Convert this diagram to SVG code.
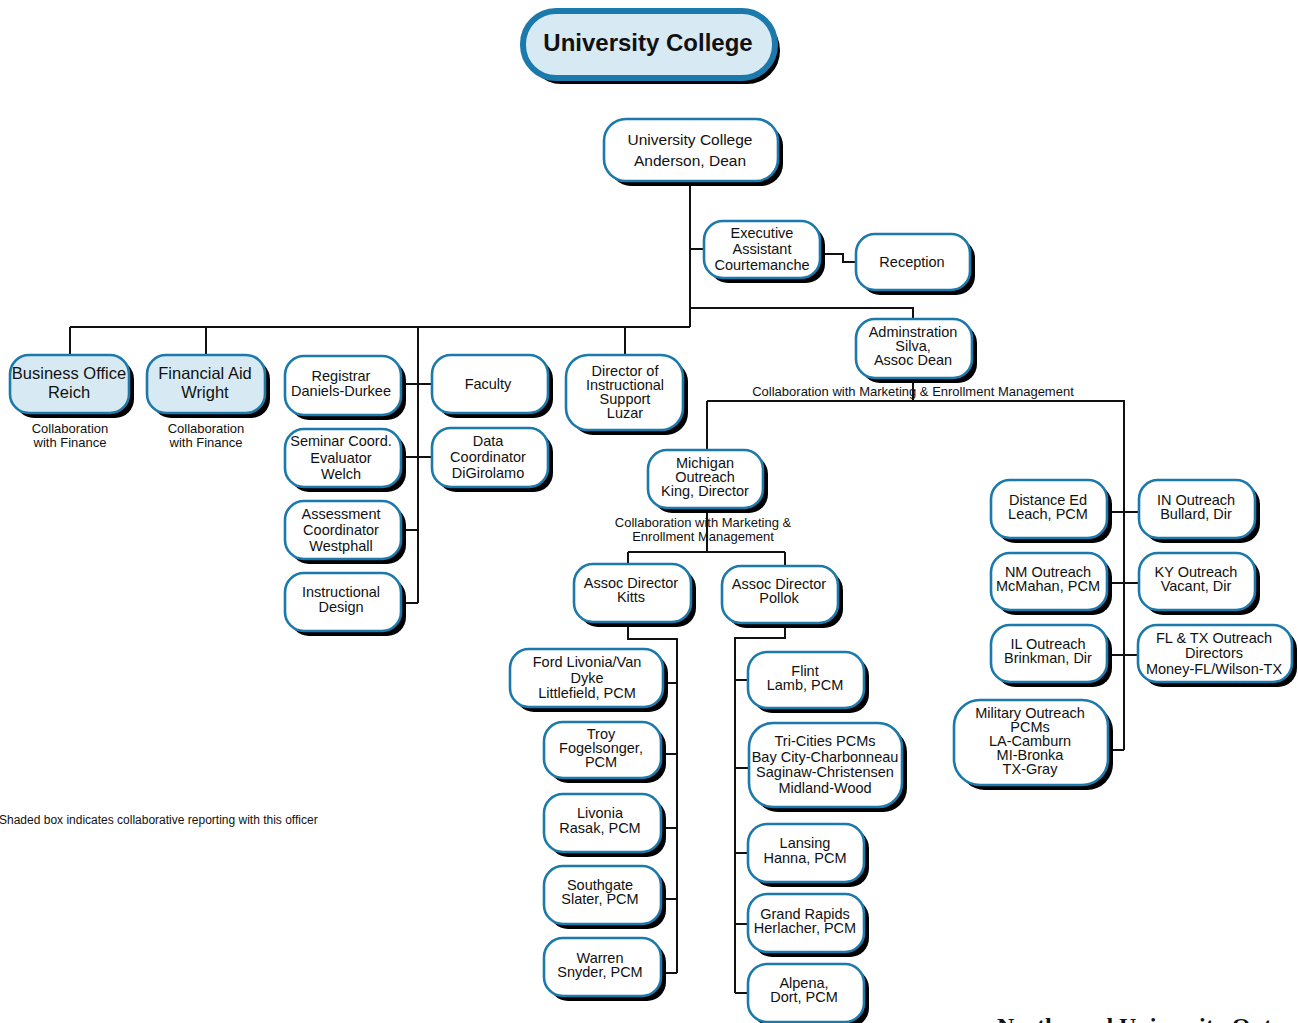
<svg xmlns="http://www.w3.org/2000/svg" width="1298" height="1023" viewBox="0 0 1298 1023">
  <style>
    .sh { fill: #000; }
    .bx { fill: #fff; stroke: #1b7aab; stroke-width: 2.6; }
    .shade { fill: #d7eaf3; }
    .lbl { font-family: "Liberation Sans", Arial, sans-serif; font-size: 14.5px; fill: #111; text-anchor: middle; }
    .big { font-size: 16.5px; }
    .dean { font-size: 15.5px; }
    .cap { font-family: "Liberation Sans", Arial, sans-serif; font-size: 13px; fill: #111; text-anchor: middle; }
    .note { font-family: "Liberation Sans", Arial, sans-serif; font-size: 12px; fill: #111; }
    .conn { fill: none; stroke: #111; stroke-width: 2; }
  </style>

  <!-- Title banner -->
  <g id="title">
    <rect x="528" y="17" width="252" height="67" rx="33" class="sh"/>
    <rect x="523" y="11" width="252" height="67" rx="33" fill="#d7eaf3" stroke="#1b7aab" stroke-width="6"/>
    <text x="648" y="51" font-family="'Liberation Sans', Arial, sans-serif" font-size="24" font-weight="bold" fill="#111" text-anchor="middle">University College</text>
  </g>

  <!-- Connectors -->
  <g id="connectors" class="conn">
    <path d="M690 184 V327 M70 327 H690 M70 327 V355 M206 327 V355 M418 327 V603 M625 327 V355"/>
    <path d="M690 249 H704"/>
    <path d="M820 254 H843 V262 H856"/>
    <path d="M690 308 H913 V319"/>
    <path d="M401 384 H432 M401 457 H432 M401 530 H418 M401 603 H418"/>
    <path d="M913 378 V401 M707 401 H1124 V750 M707 401 V450"/>
    <path d="M707 508 V552 M628 552 H785 M628 552 V564 M785 552 V566"/>
    <path d="M628 622 V639 H677 V973 M663 683 H677 M661 754 H677 M661 828 H677 M661 899 H677 M661 973 H677"/>
    <path d="M785 623 V638 H735 V993 M735 680 H748 M735 768 H749 M735 853 H748 M735 924 H748 M735 993 H748"/>
    <path d="M1107 512 H1139 M1107 583 H1139 M1107 655 H1138 M1108 750 H1124"/>
  </g>

  <g id="dean">
    <rect x="609" y="124" width="174" height="62" rx="22" class="sh"/>
    <rect x="604" y="119" width="174" height="62" rx="22" class="bx"/>
    <text class="lbl dean"><tspan x="690" y="145">University College</tspan><tspan x="690" y="166">Anderson, Dean</tspan></text>
  </g>

  <g id="exec-assistant">
    <rect x="709" y="226" width="116" height="57" rx="19" class="sh"/>
    <rect x="704" y="221" width="116" height="57" rx="19" class="bx"/>
    <text class="lbl"><tspan x="762" y="238">Executive</tspan><tspan x="762" y="254">Assistant</tspan><tspan x="762" y="270">Courtemanche</tspan></text>
  </g>

  <g id="reception">
    <rect x="861" y="239" width="114" height="56" rx="19" class="sh"/>
    <rect x="856" y="234" width="114" height="56" rx="19" class="bx"/>
    <text class="lbl" x="912" y="267">Reception</text>
  </g>

  <g id="business-office">
    <rect x="15" y="360" width="119" height="58" rx="19" class="sh"/>
    <rect x="10" y="355" width="119" height="58" rx="19" class="bx shade"/>
    <text class="lbl big"><tspan x="69" y="379">Business Office</tspan><tspan x="69" y="398">Reich</tspan></text>
    <text class="cap"><tspan x="70" y="433">Collaboration</tspan><tspan x="70" y="447">with Finance</tspan></text>
  </g>

  <g id="financial-aid">
    <rect x="152" y="360" width="118" height="58" rx="19" class="sh"/>
    <rect x="147" y="355" width="118" height="58" rx="19" class="bx shade"/>
    <text class="lbl big"><tspan x="205" y="379">Financial Aid</tspan><tspan x="205" y="398">Wright</tspan></text>
    <text class="cap"><tspan x="206" y="433">Collaboration</tspan><tspan x="206" y="447">with Finance</tspan></text>
  </g>

  <g id="registrar">
    <rect x="290" y="361" width="116" height="59" rx="19" class="sh"/>
    <rect x="285" y="356" width="116" height="59" rx="19" class="bx"/>
    <text class="lbl"><tspan x="341" y="381">Registrar</tspan><tspan x="341" y="396">Daniels-Durkee</tspan></text>
  </g>

  <g id="faculty">
    <rect x="437" y="360" width="116" height="58" rx="19" class="sh"/>
    <rect x="432" y="355" width="116" height="58" rx="19" class="bx"/>
    <text class="lbl" x="488" y="389">Faculty</text>
  </g>

  <g id="seminar-coord">
    <rect x="290" y="434" width="116" height="58" rx="19" class="sh"/>
    <rect x="285" y="429" width="116" height="58" rx="19" class="bx"/>
    <text class="lbl"><tspan x="341" y="446">Seminar Coord.</tspan><tspan x="341" y="463">Evaluator</tspan><tspan x="341" y="479">Welch</tspan></text>
  </g>

  <g id="data-coordinator">
    <rect x="437" y="433" width="116" height="59" rx="19" class="sh"/>
    <rect x="432" y="428" width="116" height="59" rx="19" class="bx"/>
    <text class="lbl"><tspan x="488" y="446">Data</tspan><tspan x="488" y="462">Coordinator</tspan><tspan x="488" y="478">DiGirolamo</tspan></text>
  </g>

  <g id="assessment">
    <rect x="290" y="506" width="116" height="58" rx="19" class="sh"/>
    <rect x="285" y="501" width="116" height="58" rx="19" class="bx"/>
    <text class="lbl"><tspan x="341" y="519">Assessment</tspan><tspan x="341" y="535">Coordinator</tspan><tspan x="341" y="551">Westphall</tspan></text>
  </g>

  <g id="instructional-design">
    <rect x="290" y="578" width="116" height="58" rx="19" class="sh"/>
    <rect x="285" y="573" width="116" height="58" rx="19" class="bx"/>
    <text class="lbl"><tspan x="341" y="597">Instructional</tspan><tspan x="341" y="612">Design</tspan></text>
  </g>

  <g id="instructional-support">
    <rect x="571" y="360" width="117" height="75" rx="22" class="sh"/>
    <rect x="566" y="355" width="117" height="75" rx="22" class="bx"/>
    <text class="lbl"><tspan x="625" y="376">Director of</tspan><tspan x="625" y="390">Instructional</tspan><tspan x="625" y="404">Support</tspan><tspan x="625" y="418">Luzar</tspan></text>
  </g>

  <g id="administration">
    <rect x="861" y="324" width="116" height="59" rx="19" class="sh"/>
    <rect x="856" y="319" width="116" height="59" rx="19" class="bx"/>
    <text class="lbl"><tspan x="913" y="337">Adminstration</tspan><tspan x="913" y="351">Silva,</tspan><tspan x="913" y="365">Assoc Dean</tspan></text>
    <text class="cap" x="913" y="396">Collaboration with Marketing &amp; Enrollment Management</text>
  </g>

  <g id="michigan-outreach">
    <rect x="653" y="455" width="115" height="58" rx="19" class="sh"/>
    <rect x="648" y="450" width="115" height="58" rx="19" class="bx"/>
    <text class="lbl"><tspan x="705" y="468">Michigan</tspan><tspan x="705" y="482">Outreach</tspan><tspan x="705" y="496">King, Director</tspan></text>
    <text class="cap"><tspan x="703" y="527">Collaboration with Marketing &amp;</tspan><tspan x="703" y="541">Enrollment Management</tspan></text>
  </g>

  <g id="assoc-kitts">
    <rect x="579" y="569" width="117" height="58" rx="19" class="sh"/>
    <rect x="574" y="564" width="117" height="58" rx="19" class="bx"/>
    <text class="lbl"><tspan x="631" y="588">Assoc Director</tspan><tspan x="631" y="602">Kitts</tspan></text>
  </g>

  <g id="assoc-pollok">
    <rect x="727" y="571" width="116" height="57" rx="19" class="sh"/>
    <rect x="722" y="566" width="116" height="57" rx="19" class="bx"/>
    <text class="lbl"><tspan x="779" y="589">Assoc Director</tspan><tspan x="779" y="603">Pollok</tspan></text>
  </g>

  <g id="ford-livonia">
    <rect x="515" y="654" width="153" height="58" rx="19" class="sh"/>
    <rect x="510" y="649" width="153" height="58" rx="19" class="bx"/>
    <text class="lbl"><tspan x="587" y="667">Ford Livonia/Van</tspan><tspan x="587" y="683">Dyke</tspan><tspan x="587" y="698">Littlefield, PCM</tspan></text>
  </g>

  <g id="troy">
    <rect x="549" y="727" width="117" height="56" rx="19" class="sh"/>
    <rect x="544" y="722" width="117" height="56" rx="19" class="bx"/>
    <text class="lbl"><tspan x="601" y="739">Troy</tspan><tspan x="601" y="753">Fogelsonger,</tspan><tspan x="601" y="767">PCM</tspan></text>
  </g>

  <g id="livonia">
    <rect x="549" y="799" width="117" height="58" rx="19" class="sh"/>
    <rect x="544" y="794" width="117" height="58" rx="19" class="bx"/>
    <text class="lbl"><tspan x="600" y="818">Livonia</tspan><tspan x="600" y="833">Rasak, PCM</tspan></text>
  </g>

  <g id="southgate">
    <rect x="549" y="871" width="117" height="58" rx="19" class="sh"/>
    <rect x="544" y="866" width="117" height="58" rx="19" class="bx"/>
    <text class="lbl"><tspan x="600" y="890">Southgate</tspan><tspan x="600" y="904">Slater, PCM</tspan></text>
  </g>

  <g id="warren">
    <rect x="549" y="943" width="117" height="58" rx="19" class="sh"/>
    <rect x="544" y="938" width="117" height="58" rx="19" class="bx"/>
    <text class="lbl"><tspan x="600" y="963">Warren</tspan><tspan x="600" y="977">Snyder, PCM</tspan></text>
  </g>

  <g id="flint">
    <rect x="753" y="657" width="116" height="56" rx="19" class="sh"/>
    <rect x="748" y="652" width="116" height="56" rx="19" class="bx"/>
    <text class="lbl"><tspan x="805" y="676">Flint</tspan><tspan x="805" y="690">Lamb, PCM</tspan></text>
  </g>

  <g id="tri-cities">
    <rect x="754" y="728" width="153" height="84" rx="24" class="sh"/>
    <rect x="749" y="723" width="153" height="84" rx="24" class="bx"/>
    <text class="lbl"><tspan x="825" y="746">Tri-Cities PCMs</tspan><tspan x="825" y="762">Bay City-Charbonneau</tspan><tspan x="825" y="777">Saginaw-Christensen</tspan><tspan x="825" y="793">Midland-Wood</tspan></text>
  </g>

  <g id="lansing">
    <rect x="753" y="829" width="116" height="58" rx="19" class="sh"/>
    <rect x="748" y="824" width="116" height="58" rx="19" class="bx"/>
    <text class="lbl"><tspan x="805" y="848">Lansing</tspan><tspan x="805" y="863">Hanna, PCM</tspan></text>
  </g>

  <g id="grand-rapids">
    <rect x="753" y="899" width="116" height="58" rx="19" class="sh"/>
    <rect x="748" y="894" width="116" height="58" rx="19" class="bx"/>
    <text class="lbl"><tspan x="805" y="919">Grand Rapids</tspan><tspan x="805" y="933">Herlacher, PCM</tspan></text>
  </g>

  <g id="alpena">
    <rect x="753" y="969" width="116" height="58" rx="19" class="sh"/>
    <rect x="748" y="964" width="116" height="58" rx="19" class="bx"/>
    <text class="lbl"><tspan x="804" y="988">Alpena,</tspan><tspan x="804" y="1002">Dort, PCM</tspan></text>
  </g>

  <g id="distance-ed">
    <rect x="996" y="485" width="116" height="58" rx="19" class="sh"/>
    <rect x="991" y="480" width="116" height="58" rx="19" class="bx"/>
    <text class="lbl"><tspan x="1048" y="505">Distance Ed</tspan><tspan x="1048" y="519">Leach, PCM</tspan></text>
  </g>

  <g id="in-outreach">
    <rect x="1144" y="485" width="116" height="58" rx="19" class="sh"/>
    <rect x="1139" y="480" width="116" height="58" rx="19" class="bx"/>
    <text class="lbl"><tspan x="1196" y="505">IN Outreach</tspan><tspan x="1196" y="519">Bullard, Dir</tspan></text>
  </g>

  <g id="nm-outreach">
    <rect x="996" y="558" width="116" height="57" rx="19" class="sh"/>
    <rect x="991" y="553" width="116" height="57" rx="19" class="bx"/>
    <text class="lbl"><tspan x="1048" y="577">NM Outreach</tspan><tspan x="1048" y="591">McMahan, PCM</tspan></text>
  </g>

  <g id="ky-outreach">
    <rect x="1144" y="558" width="116" height="57" rx="19" class="sh"/>
    <rect x="1139" y="553" width="116" height="57" rx="19" class="bx"/>
    <text class="lbl"><tspan x="1196" y="577">KY Outreach</tspan><tspan x="1196" y="591">Vacant, Dir</tspan></text>
  </g>

  <g id="il-outreach">
    <rect x="996" y="630" width="116" height="57" rx="19" class="sh"/>
    <rect x="991" y="625" width="116" height="57" rx="19" class="bx"/>
    <text class="lbl"><tspan x="1048" y="649">IL Outreach</tspan><tspan x="1048" y="663">Brinkman, Dir</tspan></text>
  </g>

  <g id="fl-tx-outreach">
    <rect x="1143" y="630" width="154" height="57" rx="19" class="sh"/>
    <rect x="1138" y="625" width="154" height="57" rx="19" class="bx"/>
    <text class="lbl"><tspan x="1214" y="643">FL &amp; TX Outreach</tspan><tspan x="1214" y="658">Directors</tspan><tspan x="1214" y="674">Money-FL/Wilson-TX</tspan></text>
  </g>

  <g id="military-outreach">
    <rect x="959" y="705" width="154" height="85" rx="26" class="sh"/>
    <rect x="954" y="700" width="154" height="85" rx="26" class="bx"/>
    <text class="lbl"><tspan x="1030" y="718">Military Outreach</tspan><tspan x="1030" y="732">PCMs</tspan><tspan x="1030" y="746">LA-Camburn</tspan><tspan x="1030" y="760">MI-Bronka</tspan><tspan x="1030" y="774">TX-Gray</tspan></text>
  </g>

  <!-- Notes -->
  <text class="note" x="-1" y="824">Shaded box indicates collaborative reporting with this officer</text>
  <text x="997" y="1034" font-family="'Liberation Serif', 'Times New Roman', serif" font-size="24" font-weight="bold" fill="#111">Northwood University Outreach</text>
</svg>
